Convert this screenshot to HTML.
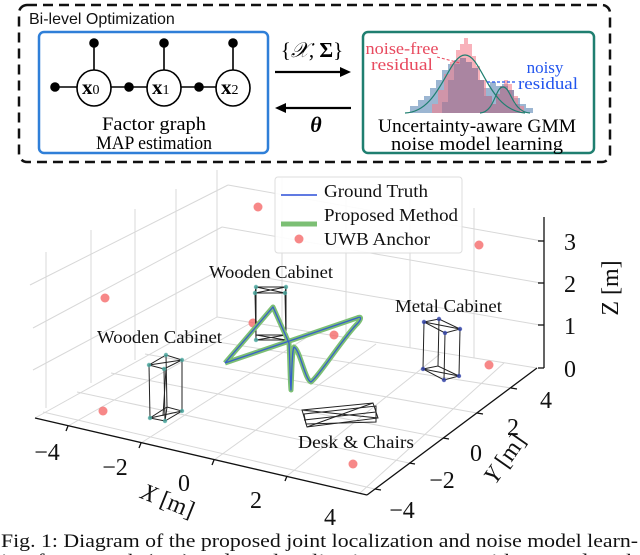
<!DOCTYPE html>
<html><head><meta charset="utf-8"><style>
html,body{margin:0;padding:0;background:#fff;}
svg{display:block;}
.s{font-family:"Liberation Serif",serif;}
.a{font-family:"Liberation Sans",sans-serif;}
</style></head><body>
<svg width="640" height="555" viewBox="0 0 640 555" xmlns="http://www.w3.org/2000/svg">
<rect x="19" y="5" width="591" height="157" rx="8" fill="none" stroke="#111" stroke-width="2.5" stroke-dasharray="10,6"/>
<text x="29" y="24" class="a" font-size="16" fill="#111">Bi-level Optimization</text>
<rect x="39" y="32" width="229" height="121" rx="5" fill="#fff" stroke="#2f7fd8" stroke-width="2.5"/>
<rect x="363" y="32" width="231" height="121" rx="5" fill="#fff" stroke="#1f7f70" stroke-width="2.5"/>
<g stroke="#000" stroke-width="1.6" fill="#000">
<line x1="55" y1="87" x2="77" y2="87"/>
<line x1="111" y1="87" x2="147" y2="87"/>
<line x1="181" y1="87" x2="216" y2="87"/>
<line x1="94" y1="43" x2="94" y2="70"/>
<line x1="164" y1="43" x2="164" y2="70"/>
<line x1="233" y1="43" x2="233" y2="70"/>
<circle cx="55" cy="87" r="4"/><circle cx="129" cy="87" r="4"/><circle cx="199" cy="87" r="4"/>
<circle cx="94" cy="43" r="4"/><circle cx="164" cy="43" r="4"/><circle cx="233" cy="43" r="4"/>
</g>
<g fill="#fff" stroke="#000" stroke-width="1.6">
<ellipse cx="94" cy="88" rx="17" ry="18"/><ellipse cx="164" cy="88" rx="17" ry="18"/><ellipse cx="233" cy="88" rx="17" ry="18"/>
</g>
<g class="s" font-size="21" font-weight="bold" fill="#000">
<text x="82" y="94">x<tspan font-size="14" font-weight="normal">0</tspan></text>
<text x="152" y="94">x<tspan font-size="14" font-weight="normal">1</tspan></text>
<text x="221" y="94">x<tspan font-size="14" font-weight="normal">2</tspan></text>
</g>
<text x="154" y="130" text-anchor="middle" class="s" font-size="19" textLength="104" lengthAdjust="spacingAndGlyphs">Factor graph</text>
<text x="154" y="149" text-anchor="middle" class="s" font-size="19" textLength="116" lengthAdjust="spacingAndGlyphs">MAP estimation</text>
<text x="312" y="57" text-anchor="middle" class="s" font-size="21">{<tspan font-style="italic">𝒳</tspan>, <tspan font-weight="bold">Σ</tspan>}</text>
<line x1="275" y1="72" x2="343" y2="72" stroke="#000" stroke-width="2.2"/>
<polygon points="351,72 340,67 340,77" fill="#000"/>
<line x1="283" y1="108" x2="351" y2="108" stroke="#000" stroke-width="2.2"/>
<polygon points="275,108 286,103 286,113" fill="#000"/>
<text x="316" y="132" text-anchor="middle" class="s" font-size="22" font-style="italic" font-weight="bold">θ</text>
<path d="M410,113 V106 H418 V100 H424 V96 H430 V88 H436 V80 H442 V70 H448 V64 H454 V60 H460 V58 H466 V62 H472 V68 H478 V80 H484 V88 H490 V82 H496 V86 H502 V84 H508 V90 H514 V98 H520 V104 H526 V108 H533 V113 Z" fill="#9cb6d2"/>
<path d="M432,113 V104 H438 V90 H444 V74 H450 V62 H456 V50 H460 V44 H464 V38 H468 V44 H472 V56 H476 V66 H480 V80 H486 V96 H492 V104 H496 V94 H500 V86 H504 V80 H508 V84 H512 V96 H518 V106 H524 V113 Z" fill="#f47f8e" opacity="0.6"/>
<path d="M442,113 V102 H448 V80 H454 V64 H460 V58 H466 V62 H472 V68 H478 V80 H484 V96 H492 V104 H496 V94 H500 V86 H508 V90 H514 V104 H520 V113 Z" fill="#9a7f9e" opacity="0.7"/>
<path d="M405,113 C440,112 448,55 465,55 C482,55 488,110 525,113" fill="none" stroke="#1f7f70" stroke-width="1.2"/>
<path d="M480,113 C495,112 495,87 503,87 C511,87 512,112 530,113" fill="none" stroke="#1f7f70" stroke-width="1.2"/>
<line x1="437" y1="57" x2="460" y2="63" stroke="#e84a5f" stroke-width="1" stroke-dasharray="3,2"/>
<line x1="487" y1="82" x2="517" y2="82" stroke="#2255ee" stroke-width="1.2" stroke-dasharray="3,2"/>
<text x="402" y="54" text-anchor="middle" class="s" font-size="17" fill="#e84a5f" textLength="73" lengthAdjust="spacingAndGlyphs">noise-free</text>
<text x="402" y="70" text-anchor="middle" class="s" font-size="17" fill="#e84a5f" textLength="62" lengthAdjust="spacingAndGlyphs">residual</text>
<text x="545" y="73" text-anchor="middle" class="s" font-size="17" fill="#2255ee">noisy</text>
<text x="548" y="89" text-anchor="middle" class="s" font-size="17" fill="#2255ee" textLength="60" lengthAdjust="spacingAndGlyphs">residual</text>
<text x="477" y="132" text-anchor="middle" class="s" font-size="19" textLength="198" lengthAdjust="spacingAndGlyphs">Uncertainty-aware GMM</text>
<text x="477" y="150" text-anchor="middle" class="s" font-size="19" textLength="172" lengthAdjust="spacingAndGlyphs">noise model learning</text>

<g stroke="#d8d8d8" stroke-width="1" fill="none">
<line x1="35" y1="418" x2="217" y2="317"/>
<line x1="33" y1="370" x2="220" y2="270"/>
<line x1="33" y1="328" x2="222" y2="227"/>
<line x1="30" y1="285" x2="228" y2="185"/>
<line x1="46" y1="408" x2="46" y2="252"/>
<line x1="91" y1="383" x2="91" y2="230"/>
<line x1="135" y1="360" x2="135" y2="209"/>
<line x1="176" y1="338" x2="176" y2="189"/>
<line x1="217" y1="317" x2="217" y2="170"/>
<line x1="217" y1="317" x2="537" y2="368"/>
<line x1="220" y1="270" x2="540" y2="325"/>
<line x1="222" y1="227" x2="541" y2="283"/>
<line x1="228" y1="185" x2="542" y2="241"/>
<line x1="282" y1="327" x2="282" y2="178"/>
<line x1="346" y1="338" x2="346" y2="188"/>
<line x1="410" y1="348" x2="410" y2="198"/>
<line x1="474" y1="358" x2="474" y2="208"/>
<line x1="68" y1="426" x2="249" y2="324"/>
<line x1="141" y1="443" x2="312" y2="334"/>
<line x1="214" y1="460" x2="376" y2="344"/>
<line x1="287" y1="476" x2="440" y2="354"/>
<line x1="360" y1="493" x2="504" y2="363"/>
<line x1="375" y1="489" x2="43" y2="412"/>
<line x1="409" y1="463" x2="77" y2="392"/>
<line x1="443" y1="438" x2="111" y2="373"/>
<line x1="477" y1="413" x2="145" y2="354"/>
<line x1="511" y1="388" x2="179" y2="336"/>
</g>
<g stroke="#111" stroke-width="1.3">
<line x1="35" y1="418" x2="367" y2="495"/>
<line x1="367" y1="495" x2="537" y2="368"/>
<line x1="544" y1="368" x2="544" y2="217"/>
<line x1="544" y1="241" x2="538" y2="241"/><line x1="544" y1="283" x2="538" y2="283"/>
<line x1="544" y1="325" x2="538" y2="325"/><line x1="544" y1="368" x2="538" y2="368"/>
<line x1="68" y1="426" x2="66" y2="431"/><line x1="141" y1="443" x2="139" y2="448"/>
<line x1="214" y1="460" x2="212" y2="465"/><line x1="287" y1="476" x2="285" y2="481"/>
<line x1="375" y1="489" x2="381" y2="490"/><line x1="409" y1="463" x2="415" y2="464"/>
<line x1="443" y1="438" x2="449" y2="439"/><line x1="477" y1="413" x2="483" y2="414"/>
<line x1="511" y1="388" x2="517" y2="389"/>
</g>
<g class="s" font-size="24" fill="#111">
<text x="570" y="250" text-anchor="middle">3</text>
<text x="570" y="292" text-anchor="middle">2</text>
<text x="570" y="334" text-anchor="middle">1</text>
<text x="570" y="377" text-anchor="middle">0</text>
<text x="47" y="460" text-anchor="middle">−4</text>
<text x="115" y="475" text-anchor="middle">−2</text>
<text x="184" y="491" text-anchor="middle">0</text>
<text x="256" y="508" text-anchor="middle">2</text>
<text x="330" y="525" text-anchor="middle">4</text>
<text x="402" y="518" text-anchor="middle">−4</text>
<text x="442" y="488" text-anchor="middle">−2</text>
<text x="476" y="461" text-anchor="middle">0</text>
<text x="513" y="435" text-anchor="middle">2</text>
<text x="546" y="408" text-anchor="middle">4</text>
<text transform="translate(618,288) rotate(-90)" text-anchor="middle">Z [m]</text>
<text transform="translate(165,508) rotate(22)" text-anchor="middle"><tspan font-style="italic">X</tspan> [m]</text>
<text transform="translate(511,463) rotate(-55)" text-anchor="middle"><tspan font-style="italic">Y</tspan> [m]</text>
</g>
<g fill="#f56a6a" opacity="0.8">
<circle cx="105" cy="298" r="4.5"/><circle cx="103" cy="411" r="4.5"/><circle cx="258" cy="207" r="4.5"/>
<circle cx="253" cy="323" r="4.5"/><circle cx="334" cy="335" r="4.5"/><circle cx="479" cy="245" r="4.5"/>
<circle cx="489" cy="365" r="4.5"/><circle cx="353" cy="464" r="4.5"/>
</g>
<g stroke="#222" stroke-width="1" fill="none">
<polygon points="149,365 164,369 182,360 166,355"/><polygon points="150,418 165,421 182,411 167,407"/>
<line x1="149" y1="365" x2="150" y2="418"/><line x1="164" y1="369" x2="165" y2="421"/><line x1="182" y1="360" x2="182" y2="411"/><line x1="166" y1="355" x2="167" y2="407"/>
<line x1="149" y1="365" x2="182" y2="360"/><line x1="150" y1="418" x2="182" y2="411"/><line x1="165" y1="421" x2="167" y2="407"/><line x1="166" y1="369" x2="163" y2="416"/>
<polygon points="256,287 286,287 285,293 255,293"/><polygon points="256,335 286,335 286,340 256,340"/>
<line x1="256" y1="287" x2="256" y2="335"/><line x1="255" y1="293" x2="256" y2="340"/><line x1="286" y1="287" x2="286" y2="335"/><line x1="285" y1="293" x2="286" y2="340"/>
<line x1="256" y1="287" x2="285" y2="293"/><line x1="286" y1="287" x2="255" y2="293"/><line x1="256" y1="335" x2="286" y2="340"/><line x1="286" y1="335" x2="256" y2="340"/>
<polygon points="424,322 439,319 460,329 445,333"/><polygon points="423,369 438,366 459,376 444,380"/>
<line x1="424" y1="322" x2="423" y2="369"/><line x1="439" y1="319" x2="438" y2="366"/><line x1="460" y1="329" x2="459" y2="376"/><line x1="445" y1="333" x2="444" y2="380"/>
<line x1="424" y1="322" x2="460" y2="329"/><line x1="423" y1="369" x2="459" y2="376"/>
<polygon points="302,410 373,403 378,418 307,427"/><polygon points="304,414 376,406 376,422 306,424"/>
<line x1="302" y1="410" x2="378" y2="418"/><line x1="307" y1="427" x2="373" y2="403"/><line x1="304" y1="420" x2="376" y2="412"/>
</g>
<g fill="#4aa8a0" opacity="0.8">
<circle cx="149" cy="365" r="2.2"/><circle cx="164" cy="369" r="2.2"/><circle cx="182" cy="360" r="2.2"/><circle cx="166" cy="355" r="2.2"/>
<circle cx="150" cy="418" r="2.2"/><circle cx="165" cy="421" r="2.2"/><circle cx="182" cy="411" r="2.2"/>
<circle cx="256" cy="287" r="2.2"/><circle cx="286" cy="287" r="2.2"/><circle cx="255" cy="293" r="2.2"/><circle cx="285" cy="293" r="2.2"/>
<circle cx="256" cy="340" r="2.2"/><circle cx="286" cy="335" r="2.2"/>
</g>
<g fill="#3344aa" opacity="0.8">
<circle cx="424" cy="322" r="2.2"/><circle cx="439" cy="319" r="2.2"/><circle cx="460" cy="329" r="2.2"/><circle cx="445" cy="333" r="2.2"/>
<circle cx="423" cy="369" r="2.2"/><circle cx="459" cy="376" r="2.2"/><circle cx="444" cy="380" r="2.2"/>
</g>
<path d="M225,363 L273,307 L289,343 C290,360 290,380 291,390 C292,370 292,350 294,347 C300,350 305,380 311,382 C320,375 345,335 358,323 C362,318 361,316 357,318 L225,363" fill="none" stroke="#7cbf74" stroke-width="5" stroke-linejoin="round"/>
<path d="M225,363 L273,307 L289,343 C290,360 290,380 291,390 C292,370 292,350 294,347 C300,350 305,380 311,382 C320,375 345,335 358,323 C362,318 361,316 357,318 L225,363" fill="none" stroke="#2c4fd8" stroke-width="1.3" stroke-linejoin="round" opacity="0.85"/>
<g class="s" font-size="18" fill="#111">
<text x="209" y="278" textLength="124" lengthAdjust="spacingAndGlyphs">Wooden  Cabinet</text>
<text x="97" y="343" textLength="125" lengthAdjust="spacingAndGlyphs">Wooden  Cabinet</text>
<text x="395" y="312" textLength="107" lengthAdjust="spacingAndGlyphs">Metal  Cabinet</text>
<text x="298" y="448" textLength="116" lengthAdjust="spacingAndGlyphs">Desk  &amp;  Chairs</text>
</g>
<rect x="275" y="177" width="187" height="76" rx="3" fill="#fff" fill-opacity="0.9" stroke="#ddd"/>
<line x1="281" y1="195" x2="317" y2="195" stroke="#2c4fd8" stroke-width="1.5"/>
<line x1="281" y1="224" x2="317" y2="224" stroke="#7cbf74" stroke-width="5"/>
<circle cx="299" cy="255" r="0" fill="none"/>
<circle cx="299" cy="239" r="4.5" fill="#f56a6a" opacity="0.8"/>
<g class="s" font-size="18" fill="#111">
<text x="324" y="197" textLength="104" lengthAdjust="spacingAndGlyphs">Ground  Truth</text>
<text x="324" y="221" textLength="134" lengthAdjust="spacingAndGlyphs">Proposed  Method</text>
<text x="324" y="245" textLength="106" lengthAdjust="spacingAndGlyphs">UWB  Anchor</text>
</g>
<text x="1" y="547" class="s" font-size="18.5" fill="#111" textLength="637" lengthAdjust="spacingAndGlyphs">Fig. 1: Diagram of the proposed joint localization and noise model learn-</text>
<text x="1" y="567" class="s" font-size="18.5" fill="#111" textLength="637" lengthAdjust="spacingAndGlyphs">ing framework (top) and our localization outcome with ground truth</text>
</svg>
</body></html>
